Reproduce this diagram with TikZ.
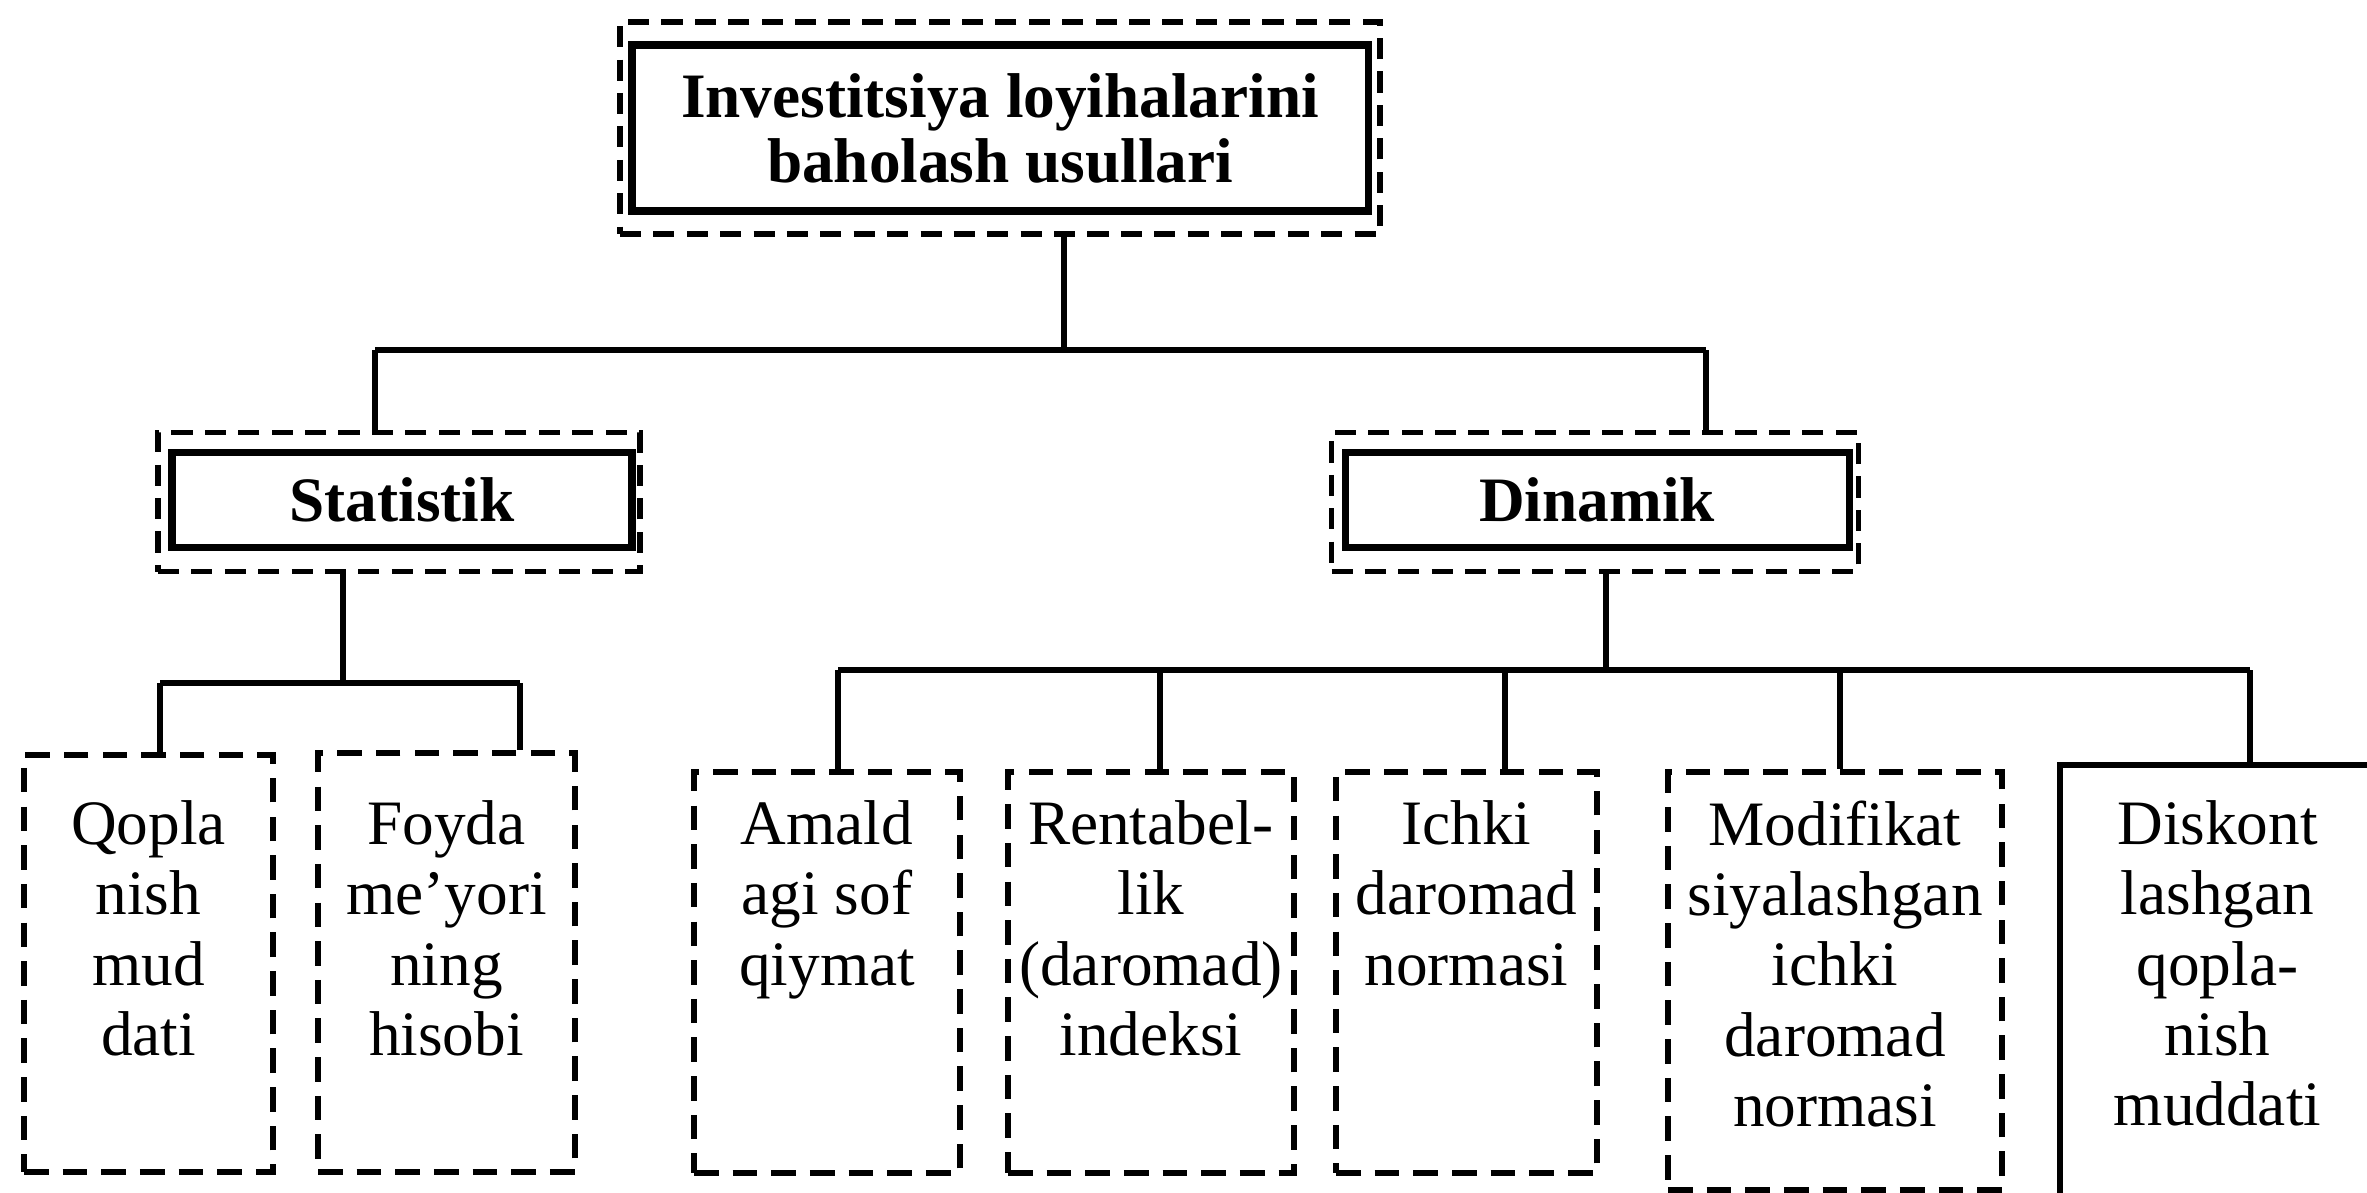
\documentclass[tikz,border=0pt]{standalone}
\usepackage{fontspec}
\setmainfont{Liberation Serif}
\usetikzlibrary{positioning,calc}

\begin{document}
\begin{tikzpicture}[
    frame/.style={rectangle,draw,line width=1.5pt,dash pattern=on 6pt off 3.5pt},
    head/.style={rectangle,draw,line width=2pt,align=center,font=\fontsize{18}{18.5}\selectfont\bfseries},
    leaf/.style={rectangle,draw,line width=1.5pt,dash pattern=on 7pt off 4pt},
    leaftxt/.style={anchor=north,align=center,inner sep=0pt,font=\fontsize{18}{20}\selectfont},
    conn/.style={line width=1.6pt}]

\useasboundingbox (0,0) rectangle (23.67,-11.92);

\node[frame,minimum width=7.6cm,minimum height=2.12cm] (topfr) at (10.0,-1.28) {};
\node[head,minimum width=7.36cm,minimum height=1.66cm] (top) at (10.0,-1.28) {Investitsiya loyihalarini\\baholash usullari};

\node[frame,minimum width=4.82cm,minimum height=1.39cm] (statfr) at (3.99,-5.02) {};
\node[head,minimum width=4.6cm,minimum height=0.95cm] (stat) at (4.02,-5.0) {Statistik};

\node[frame,minimum width=5.27cm,minimum height=1.39cm] (dynfr) at (15.95,-5.02) {};
\node[head,minimum width=5.04cm,minimum height=0.95cm] (dyn) at (15.97,-5.0) {Dinamik};

\node[leaf,minimum width=2.49cm,minimum height=4.17cm] (qop) at (1.485,-9.635) {};
\node[leaf,minimum width=2.57cm,minimum height=4.19cm] (foy) at (4.465,-9.625) {};
\node[leaf,minimum width=2.66cm,minimum height=4.01cm] (ama) at (8.27,-9.725) {};
\node[leaf,minimum width=2.86cm,minimum height=4.01cm] (ren) at (11.51,-9.725) {};
\node[leaf,minimum width=2.61cm,minimum height=4.01cm] (ich) at (14.665,-9.725) {};
\node[leaf,minimum width=3.34cm,minimum height=4.18cm] (mod) at (18.35,-9.81) {};
\node[leaf,solid,minimum width=3.15cm,minimum height=4.65cm] (dis) at (22.175,-9.975) {};

\node[leaftxt] (qoptxt) at (1.485,-8.0) {Qopla\\nish\\mud\\dati};
\node[leaftxt] (foytxt) at (4.465,-8.0) {Foyda\\me’yori\\ning\\hisobi};
\node[leaftxt] (amatxt) at (8.27,-8.0) {Amald\\agi sof\\qiymat};
\node[leaftxt] (rentxt) at (11.51,-8.0) {Rentabel-\\lik\\(daromad)\\indeksi};
\node[leaftxt] (ichtxt) at (14.665,-8.0) {Ichki\\daromad\\normasi};
\node[leaftxt] (modtxt) at (18.35,-8.0) {Modifikat\\siyalashgan\\ichki\\daromad\\normasi};
\node[leaftxt] (distxt) at (22.175,-8.0) {Diskont\\lashgan\\qopla-\\nish\\muddati};

\coordinate (tj) at (10.64,-3.50);
\coordinate (sj) at (3.75,-3.50);
\coordinate (dj) at (17.06,-3.50);
\draw[conn] (topfr.south -| tj) -- (tj);
\draw[conn] (sj) -- (dj);
\draw[conn] (sj) -- (statfr.north -| sj);
\draw[conn] (dj) -- (dynfr.north -| dj);

\coordinate (sb) at (3.43,-6.83);
\coordinate (s1) at (1.60,-6.83);
\coordinate (s2) at (5.20,-6.83);
\draw[conn] (statfr.south -| sb) -- (sb);
\draw[conn] (s1) -- (s2);
\draw[conn] (s1) -- (s1 |- qop.north);
\draw[conn] (s2) -- (s2 |- foy.north);

\coordinate (db) at (16.06,-6.70);
\coordinate (d1) at (8.38,-6.70);
\coordinate (d2) at (11.60,-6.70);
\coordinate (d3) at (15.05,-6.70);
\coordinate (d4) at (18.40,-6.70);
\coordinate (d5) at (22.50,-6.70);
\draw[conn] (dynfr.south -| db) -- (db);
\draw[conn] (d1) -- (d5);
\draw[conn] (d1) -- (d1 |- ama.north);
\draw[conn] (d2) -- (d2 |- ren.north);
\draw[conn] (d3) -- (d3 |- ich.north);
\draw[conn] (d4) -- (d4 |- mod.north);
\draw[conn] (d5) -- (d5 |- dis.north);

\end{tikzpicture}
\end{document}
